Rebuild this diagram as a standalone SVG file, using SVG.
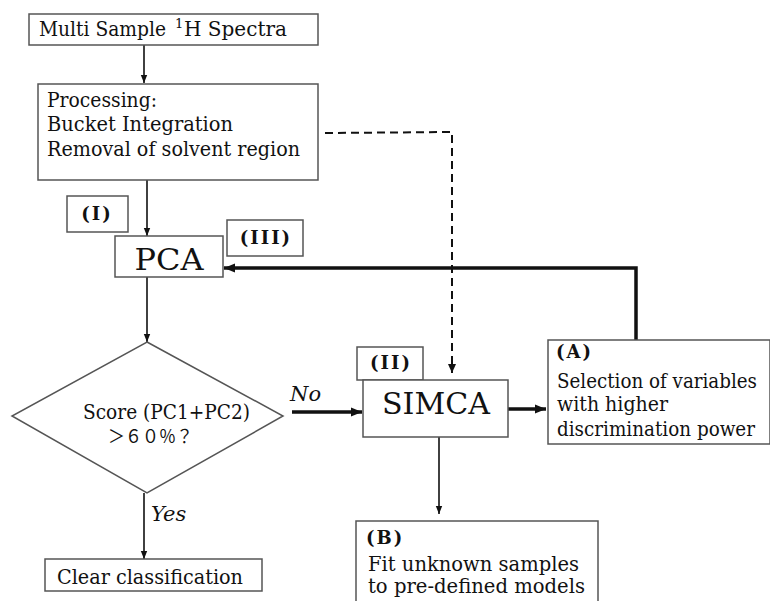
<svg xmlns="http://www.w3.org/2000/svg" width="770" height="601" viewBox="0 0 770 601">
<style>
.box{fill:#fff;stroke:#555;stroke-width:1.5}
.t{font-family:"DejaVu Serif","Liberation Serif","Noto Sans CJK JP",serif;font-size:20px;fill:#111}
.sup{font-family:"DejaVu Serif","Liberation Serif",serif;font-size:13px;fill:#111}
.lbl{font-family:"DejaVu Serif","Liberation Serif",serif;font-size:18px;font-weight:bold;letter-spacing:2px;fill:#111}
.big{font-family:"DejaVu Serif","Liberation Serif",serif;font-size:30px;fill:#111}
.it{font-family:"DejaVu Serif","Liberation Serif",serif;font-size:21px;font-style:italic;fill:#111}
.cjk{font-family:"Noto Sans CJK JP","Noto Sans CJK SC",sans-serif;font-size:18px;fill:#111}
.thin{stroke:#111;stroke-width:1.6;fill:none}
.thick{stroke:#111;stroke-width:3.5;fill:none}
.dash{stroke:#111;stroke-width:2;fill:none;stroke-dasharray:8,5}
</style>
<defs>
<marker id="ah" viewBox="0 0 10 10" refX="10" refY="5" markerWidth="5" markerHeight="5" orient="auto" markerUnits="strokeWidth"><path d="M0,1 L10,5 L0,9 z" fill="#111"/></marker>
<marker id="ahT" viewBox="0 0 10 10" refX="10" refY="5" markerWidth="3.2" markerHeight="3.2" orient="auto" markerUnits="strokeWidth"><path d="M0,1 L10,5 L0,9 z" fill="#111"/></marker>
</defs>
<rect width="770" height="601" fill="#fff"/>
<g id="connectors">
<line class="thin" x1="144" y1="45" x2="144" y2="83" marker-end="url(#ah)"/>
<line class="thin" x1="147" y1="180" x2="147" y2="236" marker-end="url(#ah)"/>
<line class="thin" x1="147" y1="277" x2="147" y2="342" marker-end="url(#ah)"/>
<line class="thin" x1="144" y1="493" x2="144" y2="559" marker-end="url(#ah)"/>
<line class="thick" x1="292" y1="412" x2="362" y2="412" marker-end="url(#ahT)"/>
<line class="thick" x1="508" y1="409" x2="546" y2="409" marker-end="url(#ahT)"/>
<polyline class="thick" points="636,340 636,268 224,268" marker-end="url(#ahT)"/>
<polyline class="dash" points="325,133 452,132 452,373"/>
<path d="M448,364 L452,373 L456,364 z" fill="#111"/>
<line class="thin" x1="439" y1="437" x2="439" y2="514" marker-end="url(#ah)"/>
<text class="it" x="290" y="401">No</text>
<text class="it" x="151" y="521">Yes</text>
</g>
<g id="spectra">
<rect class="box" x="29" y="14" width="289" height="31"/>
<text class="t" x="39" y="36" textLength="127" lengthAdjust="spacingAndGlyphs">Multi Sample</text>
<text class="sup" x="175" y="28">1</text>
<text class="t" x="184" y="36" textLength="103" lengthAdjust="spacingAndGlyphs">H Spectra</text>
</g>
<g id="processing">
<rect class="box" x="38" y="84" width="280" height="96"/>
<text class="t" x="47" y="107" textLength="110" lengthAdjust="spacingAndGlyphs">Processing:</text>
<text class="t" x="47" y="131" textLength="186" lengthAdjust="spacingAndGlyphs">Bucket Integration</text>
<text class="t" x="47" y="156" textLength="253" lengthAdjust="spacingAndGlyphs">Removal of solvent region</text>
</g>
<g id="label-I">
<rect class="box" x="67" y="196" width="61" height="36"/>
<text class="lbl" x="97" y="220" text-anchor="middle">(I)</text>
</g>
<g id="pca">
<rect class="box" x="115" y="236" width="108" height="41"/>
<text class="big" x="169" y="270" text-anchor="middle" textLength="69" lengthAdjust="spacingAndGlyphs">PCA</text>
</g>
<g id="label-III">
<rect class="box" x="227" y="220" width="76" height="36"/>
<text class="lbl" x="266" y="244" text-anchor="middle">(III)</text>
</g>
<g id="decision">
<polygon class="box" points="147,342 283,416 147,493 12,416"/>
<text class="t" x="83" y="419" textLength="167" lengthAdjust="spacingAndGlyphs">Score (PC1+PC2)</text>
<text class="cjk" x="108" y="443" textLength="85" lengthAdjust="spacingAndGlyphs">＞６０％？</text>
</g>
<g id="clear">
<rect class="box" x="45" y="559" width="217" height="32"/>
<text class="t" x="57" y="584" textLength="186" lengthAdjust="spacingAndGlyphs">Clear classification</text>
</g>
<g id="label-II">
<rect class="box" x="357" y="347" width="66" height="33"/>
<text class="lbl" x="391" y="369" text-anchor="middle">(II)</text>
</g>
<g id="simca">
<rect class="box" x="363" y="380" width="145" height="57"/>
<text class="big" x="436" y="414" text-anchor="middle" textLength="108" lengthAdjust="spacingAndGlyphs">SIMCA</text>
</g>
<g id="boxA">
<rect class="box" x="548" y="340" width="222" height="104"/>
<text class="lbl" x="556" y="358">(A)</text>
<text class="t" x="557" y="388" textLength="200" lengthAdjust="spacingAndGlyphs">Selection of variables</text>
<text class="t" x="557" y="411" textLength="111" lengthAdjust="spacingAndGlyphs">with higher</text>
<text class="t" x="557" y="436" textLength="198" lengthAdjust="spacingAndGlyphs">discrimination power</text>
</g>
<g id="boxB">
<rect class="box" x="356" y="521" width="242" height="90"/>
<text class="lbl" x="366" y="544">(B)</text>
<text class="t" x="368" y="571" textLength="211" lengthAdjust="spacingAndGlyphs">Fit unknown samples</text>
<text class="t" x="368" y="593" textLength="217" lengthAdjust="spacingAndGlyphs">to pre-defined models</text>
</g>
</svg>
